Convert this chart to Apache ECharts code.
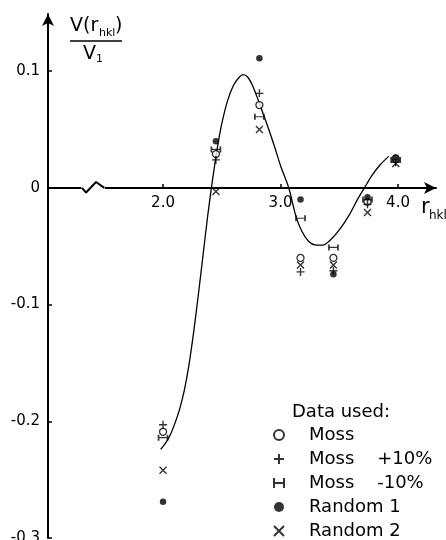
<!DOCTYPE html>
<html>
<head>
<meta charset="utf-8">
<script src="https://cdn.jsdelivr.net/npm/echarts@6/dist/echarts.min.js"></script>
<style>
  html, body { margin: 0; padding: 0; background: #fff; }
  #chart { width: 446px; height: 540px; }
</style>
</head>
<body>
<div id="chart"></div>
<script>
// ---- data ----
const rValues = [2.0, 2.45, 2.82, 3.17, 3.45, 3.74, 3.98];
const moss      = [-0.209, 0.029, 0.071, -0.060, -0.060, -0.012, 0.025];
const mossPlus  = [-0.203, 0.024, 0.081, -0.072, -0.071, -0.014, 0.022];
const mossMinus = [-0.214, 0.033, 0.061, -0.026, -0.051, -0.010, 0.024];
const random1   = [-0.269, 0.040, 0.111, -0.010, -0.074, -0.008, 0.026];
const random2   = [-0.242, -0.003, 0.050, -0.066, -0.066, -0.021, 0.021];

const curveR = [1.98, 2.02, 2.06, 2.10, 2.14, 2.18, 2.22, 2.26, 2.30, 2.34, 2.38, 2.42, 2.46, 2.50, 2.55, 2.60, 2.65, 2.68, 2.72, 2.76, 2.80, 2.85, 2.90, 2.95, 3.00, 3.07, 3.13, 3.18, 3.24, 3.30, 3.36, 3.42, 3.50, 3.58, 3.66, 3.72, 3.78, 3.85, 3.92];
const curveV = [-0.224, -0.219, -0.212, -0.202, -0.190, -0.174, -0.152, -0.124, -0.092, -0.058, -0.024, 0.006, 0.033, 0.055, 0.075, 0.088, 0.095, 0.097, 0.095, 0.088, 0.078, 0.064, 0.050, 0.035, 0.019, 0.000, -0.024, -0.037, -0.046, -0.049, -0.049, -0.045, -0.036, -0.024, -0.009, 0.001, 0.011, 0.020, 0.027];

const xTicks = [2.0, 3.0, 4.0];
const yTicks = [-0.3, -0.2, -0.1, 0, 0.1];
const breakR = [1.31, 1.345, 1.43, 1.50];
const breakV = [0, -0.004, 0.005, 0];

const legendNames = ['Moss', 'Moss    +10%', 'Moss    -10%', 'Random 1', 'Random 2'];

// ---- chart ----
const FONT = 'DejaVu Sans';
const zip = (a, b) => a.map((v, i) => [v, b[i]]);

const plusPath = 'path://M5,0 L5,10 M0,5 L10,5';
const crossPath = 'path://M0,0 L10,10 M10,0 L0,10';
const ibarPath = 'path://M0,0 L0,10 M0,5 L10,5 M10,0 L10,10';

const strokeStyle = { color: 'transparent', borderColor: '#000', borderWidth: 1.4 };

const Y_MIN = -0.3, Y_MAX = 0.149;
const GRID_TOP = 14, GRID_BOTTOM = 2, H = 540;
// pixel distance from grid bottom to the y = 0 line (so the x axis sits on zero)
const zeroOffset = (0 - Y_MIN) / (Y_MAX - Y_MIN) * (H - GRID_TOP - GRID_BOTTOM);

const chart = echarts.init(document.getElementById('chart'), null, { renderer: 'canvas' });
chart.setOption({
  backgroundColor: '#fff',
  animation: false,
  grid: { left: 48, right: 10, top: GRID_TOP, bottom: GRID_BOTTOM, containLabel: false, outerBoundsMode: 'none' },
  xAxis: {
    type: 'value', min: 1.021, max: 4.323, position: 'bottom', offset: -zeroOffset,
    axisLine: { onZero: false, lineStyle: { color: '#000', width: 2 }, symbol: ['none', 'arrow'], symbolSize: [9, 12] },
    axisTick: { inside: true, length: 4, lineStyle: { color: '#000', width: 1.5 }, customValues: xTicks },
    axisLabel: { customValues: xTicks, formatter: v => v.toFixed(1), color: '#000', fontFamily: FONT, fontSize: 15, margin: 8 },
    splitLine: { show: false }
  },
  yAxis: {
    type: 'value', min: Y_MIN, max: Y_MAX,
    axisLine: { onZero: false, lineStyle: { color: '#000', width: 2 }, symbol: ['none', 'arrow'], symbolSize: [9, 12] },
    axisTick: { inside: true, length: 4, lineStyle: { color: '#000', width: 1.5 }, customValues: yTicks },
    axisLabel: { customValues: yTicks, formatter: v => (Math.abs(v) < 1e-9 ? '0' : v.toFixed(1)), color: '#000', fontFamily: FONT, fontSize: 15, margin: 8 },
    splitLine: { show: false }
  },
  legend: {
    orient: 'vertical', left: 273, top: 426, itemWidth: 10, itemHeight: 10, itemGap: 6, padding: 0,
    selectedMode: false,
    data: legendNames,
    textStyle: { fontFamily: FONT, fontSize: 18, color: '#000', lineHeight: 18, padding: [0, 0, 0, 20] }
  },
  graphic: [
    { type: 'text', left: 292, top: 403, style: { text: 'Data used:', font: '18px "DejaVu Sans"', fill: '#000' } },
    { type: 'text', left: 70, top: 17, style: { text: 'V(r', font: '19px "DejaVu Sans"', fill: '#000' } },
    { type: 'text', left: 99, top: 28, style: { text: 'hkl', font: '11px "DejaVu Sans"', fill: '#000' } },
    { type: 'text', left: 115, top: 17, style: { text: ')', font: '19px "DejaVu Sans"', fill: '#000' } },
    { type: 'line', shape: { x1: 70, y1: 41, x2: 122, y2: 41 }, style: { stroke: '#000', lineWidth: 1.5 } },
    { type: 'text', left: 83, top: 45, style: { text: 'V', font: '19px "DejaVu Sans"', fill: '#000' } },
    { type: 'text', left: 96, top: 54, style: { text: '1', font: '11px "DejaVu Sans"', fill: '#000' } },
    { type: 'text', left: 421, top: 197, style: { text: 'r', font: '21px "DejaVu Sans"', fill: '#000' } },
    { type: 'text', left: 429, top: 210, style: { text: 'hkl', font: '12px "DejaVu Sans"', fill: '#000' } }
  ],
  series: [
    { name: 'breakEraser', type: 'line', data: zip([breakR[0] - 0.005, breakR[3] + 0.005], [0, 0]), showSymbol: false,
      lineStyle: { color: '#fff', width: 5 }, z: 3, silent: true },
    { name: 'break', type: 'line', data: zip(breakR, breakV), showSymbol: false,
      lineStyle: { color: '#000', width: 2 }, z: 4, silent: true },
    { name: 'curve', type: 'line', data: zip(curveR, curveV), smooth: 0.3, showSymbol: false,
      lineStyle: { color: '#000', width: 1.3 }, z: 2 },
    { name: legendNames[0], type: 'scatter', data: zip(rValues, moss), symbol: 'circle', symbolSize: 7,
      itemStyle: { color: '#fff', borderColor: '#000', borderWidth: 1.3 }, z: 5 },
    { name: legendNames[1], type: 'scatter', data: zip(rValues, mossPlus), symbol: plusPath, symbolSize: 8,
      itemStyle: strokeStyle, z: 5 },
    { name: legendNames[2], type: 'scatter', data: zip(rValues, mossMinus), symbol: ibarPath, symbolSize: [9, 6],
      itemStyle: strokeStyle, z: 5 },
    { name: legendNames[3], type: 'scatter', data: zip(rValues, random1), symbol: 'circle', symbolSize: 6.5,
      itemStyle: { color: '#000' }, z: 5 },
    { name: legendNames[4], type: 'scatter', data: zip(rValues, random2), symbol: crossPath, symbolSize: 7,
      itemStyle: strokeStyle, z: 5 }
  ]
});
</script>
</body>
</html>
